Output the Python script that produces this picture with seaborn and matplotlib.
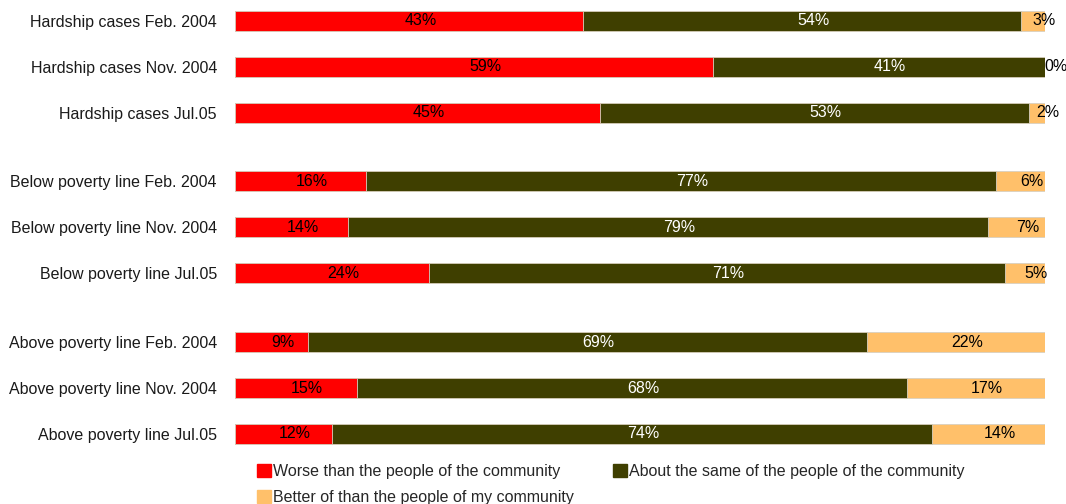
import numpy as np
import pandas as pd
import matplotlib.pyplot as plt
import seaborn as sns

groups = ['Hardship cases Feb. 2004', 'Hardship cases Nov. 2004', 'Hardship cases Jul.05',
          'Below poverty line Feb. 2004', 'Below poverty line Nov. 2004', 'Below poverty line Jul.05',
          'Above poverty line Feb. 2004', 'Above poverty line Nov. 2004', 'Above poverty line Jul.05']
worse = [43, 59, 45, 16, 14, 24, 9, 15, 12]
same = [54, 41, 53, 77, 79, 71, 69, 68, 74]
better = [3, 0, 2, 6, 7, 5, 22, 17, 14]

series_names = ['Worse than the people of the community',
                'About the same of the people of the community',
                'Better of than the people of my community']
colors = ['#ff0000', '#3f3f00', '#ffc06a']
text_colors = ['black', 'white', 'black']

# row positions: three blocks of three with a gap between blocks
ypos = [0, 1, 2, 3.5, 4.5, 5.5, 7, 8, 9]

df = pd.DataFrame({'group': groups, 'y': ypos, 'worse': worse, 'same': same, 'better': better})
total = df[['worse', 'same', 'better']].sum(axis=1)
df['c1'] = df['worse'] / total * 100
df['c2'] = (df['worse'] + df['same']) / total * 100
df['c3'] = 100.0

sns.set_style('white')
plt.rcParams['font.family'] = ['Liberation Sans', 'DejaVu Sans']

fig = plt.figure(figsize=(10.66, 5.04), dpi=100)
ax = fig.add_axes([235 / 1066, 1 - 454.6 / 504, 810 / 1066, 455 / 504])

# draw back to front so the stacks show
for col, color in zip(['c3', 'c2', 'c1'], colors[::-1]):
    sns.barplot(data=df, x=col, y='y', orient='h', native_scale=True, width=0.436,
                color=color, edgecolor='#d8d0c0', linewidth=0.6, ax=ax, saturation=1)

# value labels
for i, row in df.iterrows():
    starts = [0, row['c1'], row['c2']]
    ends = [row['c1'], row['c2'], row['c3']]
    vals = [row['worse'], row['same'], row['better']]
    for s, e, v, tc in zip(starts, ends, vals, text_colors):
        ax.annotate(f'{v}%', xy=((s + e) / 2, row['y']), xytext=(8, 0),
                    textcoords='offset points', ha='center', va='center',
                    color=tc, fontsize=11.5, annotation_clip=False)

ax.set_xlim(0, 100)
ax.set_ylim(9.45, -0.46)
ax.set_yticks(ypos)
ax.set_yticklabels(groups, fontsize=11.5, color='#1a1a1a')
ax.set_xticks([])
ax.set_xlabel('')
ax.set_ylabel('')
ax.tick_params(axis='y', length=0, pad=13)
for sp in ax.spines.values():
    sp.set_visible(False)

# legend fills column-wise: worse + better in first column, about in second
order = [0, 2, 1]
handles = [plt.Rectangle((0, 0), 1, 1, color=colors[k]) for k in order]
labels = [series_names[k] for k in order]
fig.legend(handles, labels, ncol=2, loc='upper left', bbox_to_anchor=(257 / 1066, 1 - 464 / 504),
           frameon=False, fontsize=11.5, handlelength=0.9, handleheight=0.85, handletextpad=0.1,
           columnspacing=2.45, labelspacing=0.7, borderpad=0, borderaxespad=0)

fig.savefig('out.png', dpi=100)
